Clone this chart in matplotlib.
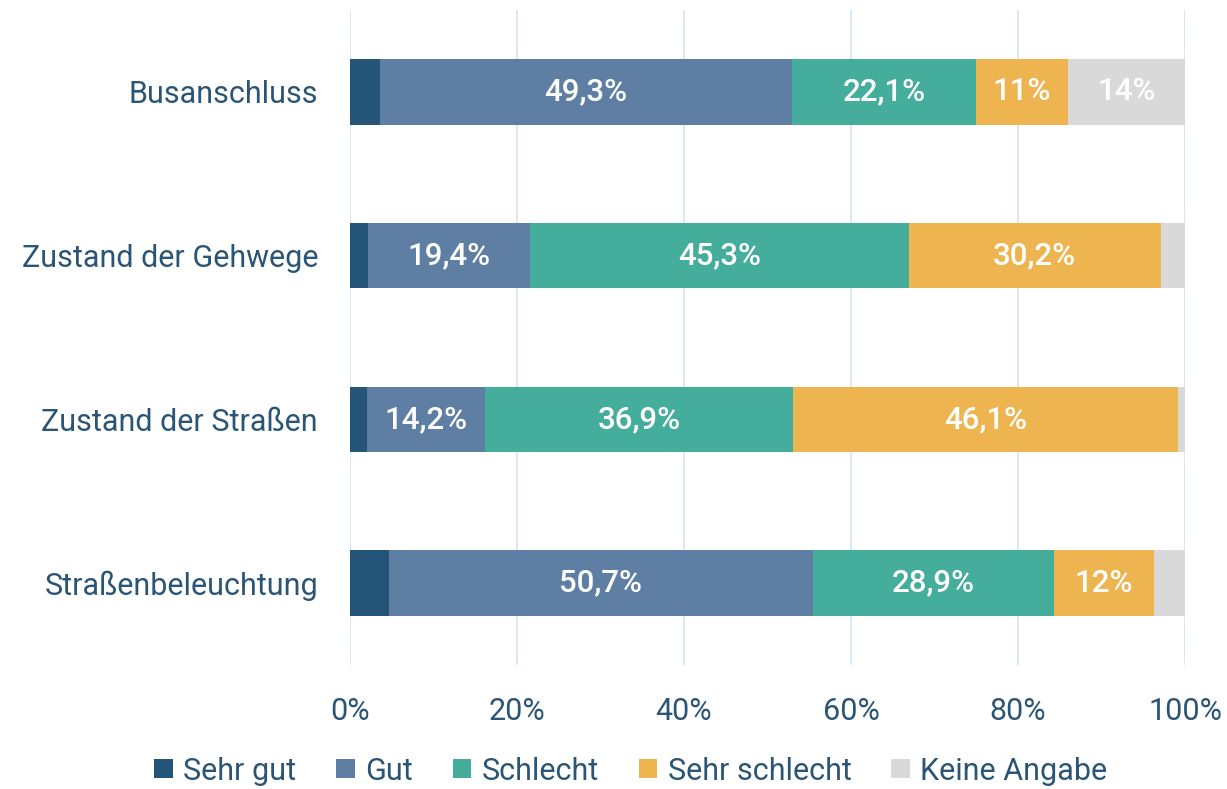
import matplotlib
matplotlib.use('Agg')
import matplotlib.pyplot as plt
import numpy as np

plt.rcParams['font.family'] = ['Roboto', 'DejaVu Sans']

categories = ['Busanschluss', 'Zustand der Gehwege', 'Zustand der Straßen', 'Straßenbeleuchtung']
series = ['Sehr gut', 'Gut', 'Schlecht', 'Sehr schlecht', 'Keine Angabe']
sehr_gut = [3.6, 2.2, 2.0, 4.7]
gut = [49.3, 19.4, 14.2, 50.7]
schlecht = [22.1, 45.3, 36.9, 28.9]
sehr_schlecht = [11.0, 30.2, 46.1, 12.0]
keine_angabe = [14.0, 2.9, 0.8, 3.7]
# Labels wie im Original (nur die beschrifteten Segmente)
labels = [
    [None, '49,3%', '22,1%', '11%', '14%'],
    [None, '19,4%', '45,3%', '30,2%', None],
    [None, '14,2%', '36,9%', '46,1%', None],
    [None, '50,7%', '28,9%', '12%', None],
]
x_ticks = [0, 20, 40, 60, 80, 100]
x_ticklabels = ['0%', '20%', '40%', '60%', '80%', '100%']

colors = ['#245477', '#5e7fa3', '#45ad9c', '#edb44f', '#d9d9d9']
text_color = '#2a5576'
grid_color = '#dce8f3'


def plot_stacked():
    fig = plt.figure(figsize=(12.27, 7.89), dpi=100)
    ax = fig.add_axes([350 / 1227, 1 - 665 / 789, 835 / 1227, 655 / 789])

    data = [sehr_gut, gut, schlecht, sehr_schlecht, keine_angabe]
    y = np.arange(len(categories))
    left = np.zeros(len(categories))
    for i, (name, vals) in enumerate(zip(series, data)):
        vals = np.array(vals)
        ax.barh(y, vals, left=left, height=0.4, color=colors[i], label=name, zorder=3)
        for j in range(len(categories)):
            txt = labels[j][i]
            if txt:
                ax.text(left[j] + vals[j] / 2, y[j], txt, ha='center', va='center',
                        color='white', fontsize=22.5, fontweight='medium', zorder=4)
        left += vals

    ax.set_xlim(0, 100)
    ax.set_ylim(3.5, -0.5)
    ax.set_yticks(y)
    ax.set_yticklabels(categories, fontsize=22, color=text_color)
    ax.set_xticks(x_ticks)
    ax.set_xticklabels(x_ticklabels, fontsize=22, color=text_color)
    ax.tick_params(axis='both', length=0)
    ax.tick_params(axis='y', pad=23)
    ax.tick_params(axis='x', pad=23)
    ax.xaxis.grid(True, color=grid_color, linewidth=1.5, zorder=0)
    for s in ax.spines.values():
        s.set_visible(False)

    leg = fig.legend(loc='center', bbox_to_anchor=(631 / 1227, 1 - 771 / 789), ncol=5,
                     frameon=False, fontsize=22, handlelength=0.6, handleheight=0.6,
                     handletextpad=0.35, columnspacing=1.3)
    for t in leg.get_texts():
        t.set_color(text_color)

    fig.savefig('out.png', dpi=100)


if __name__ == '__main__':
    plot_stacked()
